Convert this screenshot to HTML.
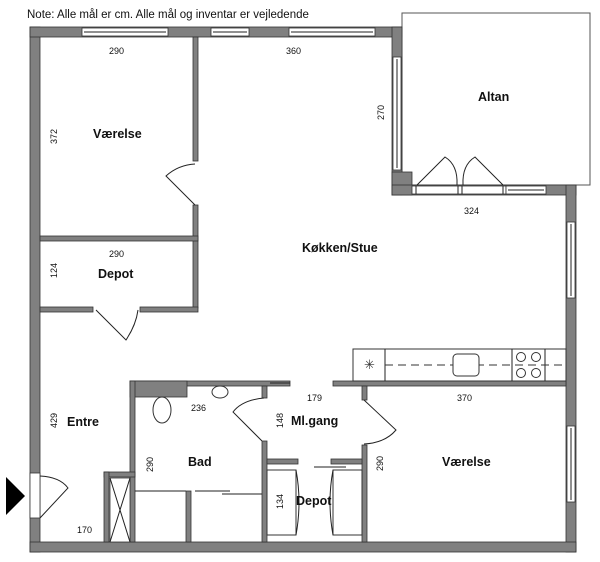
<!DOCTYPE html>
<html><head><style>
html,body{margin:0;padding:0;background:#fff;}
svg{display:block;font-family:"Liberation Sans",sans-serif;}
.w{fill:#808080;stroke:#333;stroke-width:0.8}
.win{fill:#fff;stroke:#333;stroke-width:0.8}
.l{stroke:#222;stroke-width:1;fill:none}
.t{font-size:9px;fill:#111}
.b{font-size:12.5px;font-weight:bold;fill:#111}
</style></head><body>
<svg width="600" height="562" viewBox="0 0 600 562">
<text x="27" y="18" style="font-size:11.5px" fill="#111">Note: Alle mål er cm. Alle mål og inventar er vejledende</text>
<!-- balcony outline -->
<rect x="402" y="13" width="188" height="172" fill="none" stroke="#555" stroke-width="1"/>
<!-- outer walls -->
<rect class="w" x="30" y="27" width="10" height="525"/>
<rect class="w" x="30" y="27" width="372" height="10"/>
<rect class="w" x="392" y="27" width="10" height="168"/>
<rect class="w" x="392" y="172" width="20" height="23"/>
<rect class="w" x="392" y="185" width="184" height="10"/>
<rect class="w" x="566" y="185" width="10" height="367"/>
<rect class="w" x="30" y="542" width="546" height="10"/>
<!-- top windows -->
<rect class="win" x="82" y="28" width="86" height="8"/><line class="l" x1="84" y1="32" x2="166" y2="32"/>
<rect class="win" x="211" y="28" width="38" height="8"/><line class="l" x1="213" y1="32" x2="247" y2="32"/>
<rect class="win" x="289" y="28" width="86" height="8"/><line class="l" x1="291" y1="32" x2="373" y2="32"/>
<!-- side window -->
<rect class="win" x="393" y="57" width="8" height="113"/><line class="l" x1="397" y1="59" x2="397" y2="168"/>
<!-- balcony doors / window -->
<rect class="win" x="412" y="186" width="94" height="8"/>
<line class="l" x1="416" y1="186" x2="416" y2="194"/><line class="l" x1="458" y1="186" x2="458" y2="194"/><line class="l" x1="462" y1="186" x2="462" y2="194"/><line class="l" x1="503" y1="186" x2="503" y2="194"/>
<path class="l" d="M417 185 L445 157 Q458 165 457 185"/>
<path class="l" d="M503 185 L475 157 Q462 165 463 185"/>
<rect class="win" x="506" y="186" width="40" height="8"/><line class="l" x1="508" y1="190" x2="544" y2="190"/>
<!-- right windows -->
<rect class="win" x="567" y="222" width="8" height="76"/><line class="l" x1="571" y1="224" x2="571" y2="296"/>
<rect class="win" x="567" y="426" width="8" height="76"/><line class="l" x1="571" y1="428" x2="571" y2="500"/>
<!-- entrance door -->
<rect x="30" y="473" width="10" height="45" fill="#fff" stroke="#333" stroke-width="0.8"/>
<path class="l" d="M40 518 L68 488 Q60 477 40 476"/>
<polygon points="6,477 25,496 6,515" fill="#000"/>
<!-- vaerelse1 walls -->
<rect class="w" x="193" y="37" width="5" height="124"/>
<rect class="w" x="193" y="205" width="5" height="103"/>
<rect class="w" x="40" y="236" width="158" height="5"/>
<path class="l" d="M195 205 L166 176 Q178 165 195 164"/>
<!-- depot1 -->
<rect class="w" x="40" y="307" width="53" height="5"/>
<rect class="w" x="140" y="307" width="58" height="5"/>
<path class="l" d="M96 310 L126 340 Q136 325 138 310"/>
<!-- bad -->
<rect class="w" x="130" y="381" width="160" height="5"/>
<rect class="w" x="130" y="381" width="57" height="16"/>
<rect class="w" x="130" y="381" width="5" height="161"/>
<rect class="w" x="104" y="472" width="31" height="5"/>
<rect class="w" x="104" y="472" width="5" height="70"/>
<rect x="110" y="478" width="20" height="64" fill="#fff" stroke="#333" stroke-width="0.8"/>
<path class="l" d="M110 478 L130 542 M130 478 L110 542"/>
<rect class="w" x="262" y="386" width="5" height="12"/>
<rect class="w" x="262" y="441" width="5" height="101"/>
<path class="l" d="M264 398 Q242 400 233 412 L262 441"/>
<line class="l" x1="135" y1="491" x2="186" y2="491"/>
<rect class="w" x="186" y="491" width="5" height="51"/>
<line class="l" x1="195" y1="491" x2="230" y2="491"/>
<line class="l" x1="222" y1="494" x2="262" y2="494"/>
<ellipse cx="162" cy="410" rx="9" ry="13" fill="#fff" stroke="#333"/>
<ellipse cx="220" cy="392" rx="8" ry="6" fill="#fff" stroke="#333"/>
<!-- ml.gang -->
<line class="l" x1="270" y1="383" x2="290" y2="383"/>
<rect class="w" x="333" y="381" width="233" height="5"/>
<rect class="w" x="362" y="386" width="5" height="14"/>
<rect class="w" x="362" y="445" width="5" height="97"/>
<path class="l" d="M364 400 L396 430 Q385 443 364 444"/>
<rect class="w" x="267" y="459" width="31" height="5"/>
<rect class="w" x="331" y="459" width="31" height="5"/>
<line class="l" x1="314" y1="467" x2="346" y2="467"/>
<rect x="267" y="470" width="29" height="65" fill="none" stroke="#333"/>
<rect x="333" y="470" width="29" height="65" fill="none" stroke="#333"/>
<path class="l" d="M296 470 Q302 502 296 535 M333 470 Q327 502 333 535"/>
<!-- kitchen counter -->
<rect x="353" y="349" width="213" height="32" fill="#fff" stroke="#333"/>
<line class="l" x1="385" y1="349" x2="385" y2="381"/>
<line class="l" x1="512" y1="349" x2="512" y2="381"/>
<line class="l" x1="545" y1="349" x2="545" y2="381"/>
<line x1="385" y1="365" x2="566" y2="365" stroke="#333" stroke-dasharray="8,5"/>
<rect x="453" y="354" width="26" height="22" rx="4" fill="#fff" stroke="#333"/>
<text x="364" y="369" style="font-size:13px" fill="#333">✳</text>
<circle cx="521" cy="357" r="4.5" fill="#fff" stroke="#333"/><circle cx="536" cy="357" r="4.5" fill="#fff" stroke="#333"/>
<circle cx="521" cy="373" r="4.5" fill="#fff" stroke="#333"/><circle cx="536" cy="373" r="4.5" fill="#fff" stroke="#333"/>
<!-- labels -->
<text class="b" x="93" y="138">Værelse</text>
<text class="b" x="98" y="278">Depot</text>
<text class="b" x="478" y="101">Altan</text>
<text class="b" x="302" y="252">Køkken/Stue</text>
<text class="b" x="67" y="426">Entre</text>
<text class="b" x="188" y="466">Bad</text>
<text class="b" x="291" y="425">Ml.gang</text>
<text class="b" x="296" y="505">Depot</text>
<text class="b" x="442" y="466">Værelse</text>
<text class="t" x="109" y="54">290</text>
<text class="t" x="286" y="54">360</text>
<text class="t" x="109" y="257">290</text>
<text class="t" x="464" y="214">324</text>
<text class="t" x="191" y="411">236</text>
<text class="t" x="307" y="401">179</text>
<text class="t" x="457" y="401">370</text>
<text class="t" x="77" y="533">170</text>
<g class="t">
<text transform="translate(57,144) rotate(-90)">372</text>
<text transform="translate(57,278) rotate(-90)">124</text>
<text transform="translate(384,120) rotate(-90)">270</text>
<text transform="translate(57,428) rotate(-90)">429</text>
<text transform="translate(153,472) rotate(-90)">290</text>
<text transform="translate(283,428) rotate(-90)">148</text>
<text transform="translate(283,509) rotate(-90)">134</text>
<text transform="translate(383,471) rotate(-90)">290</text>
</g>
</svg>
</body></html>
